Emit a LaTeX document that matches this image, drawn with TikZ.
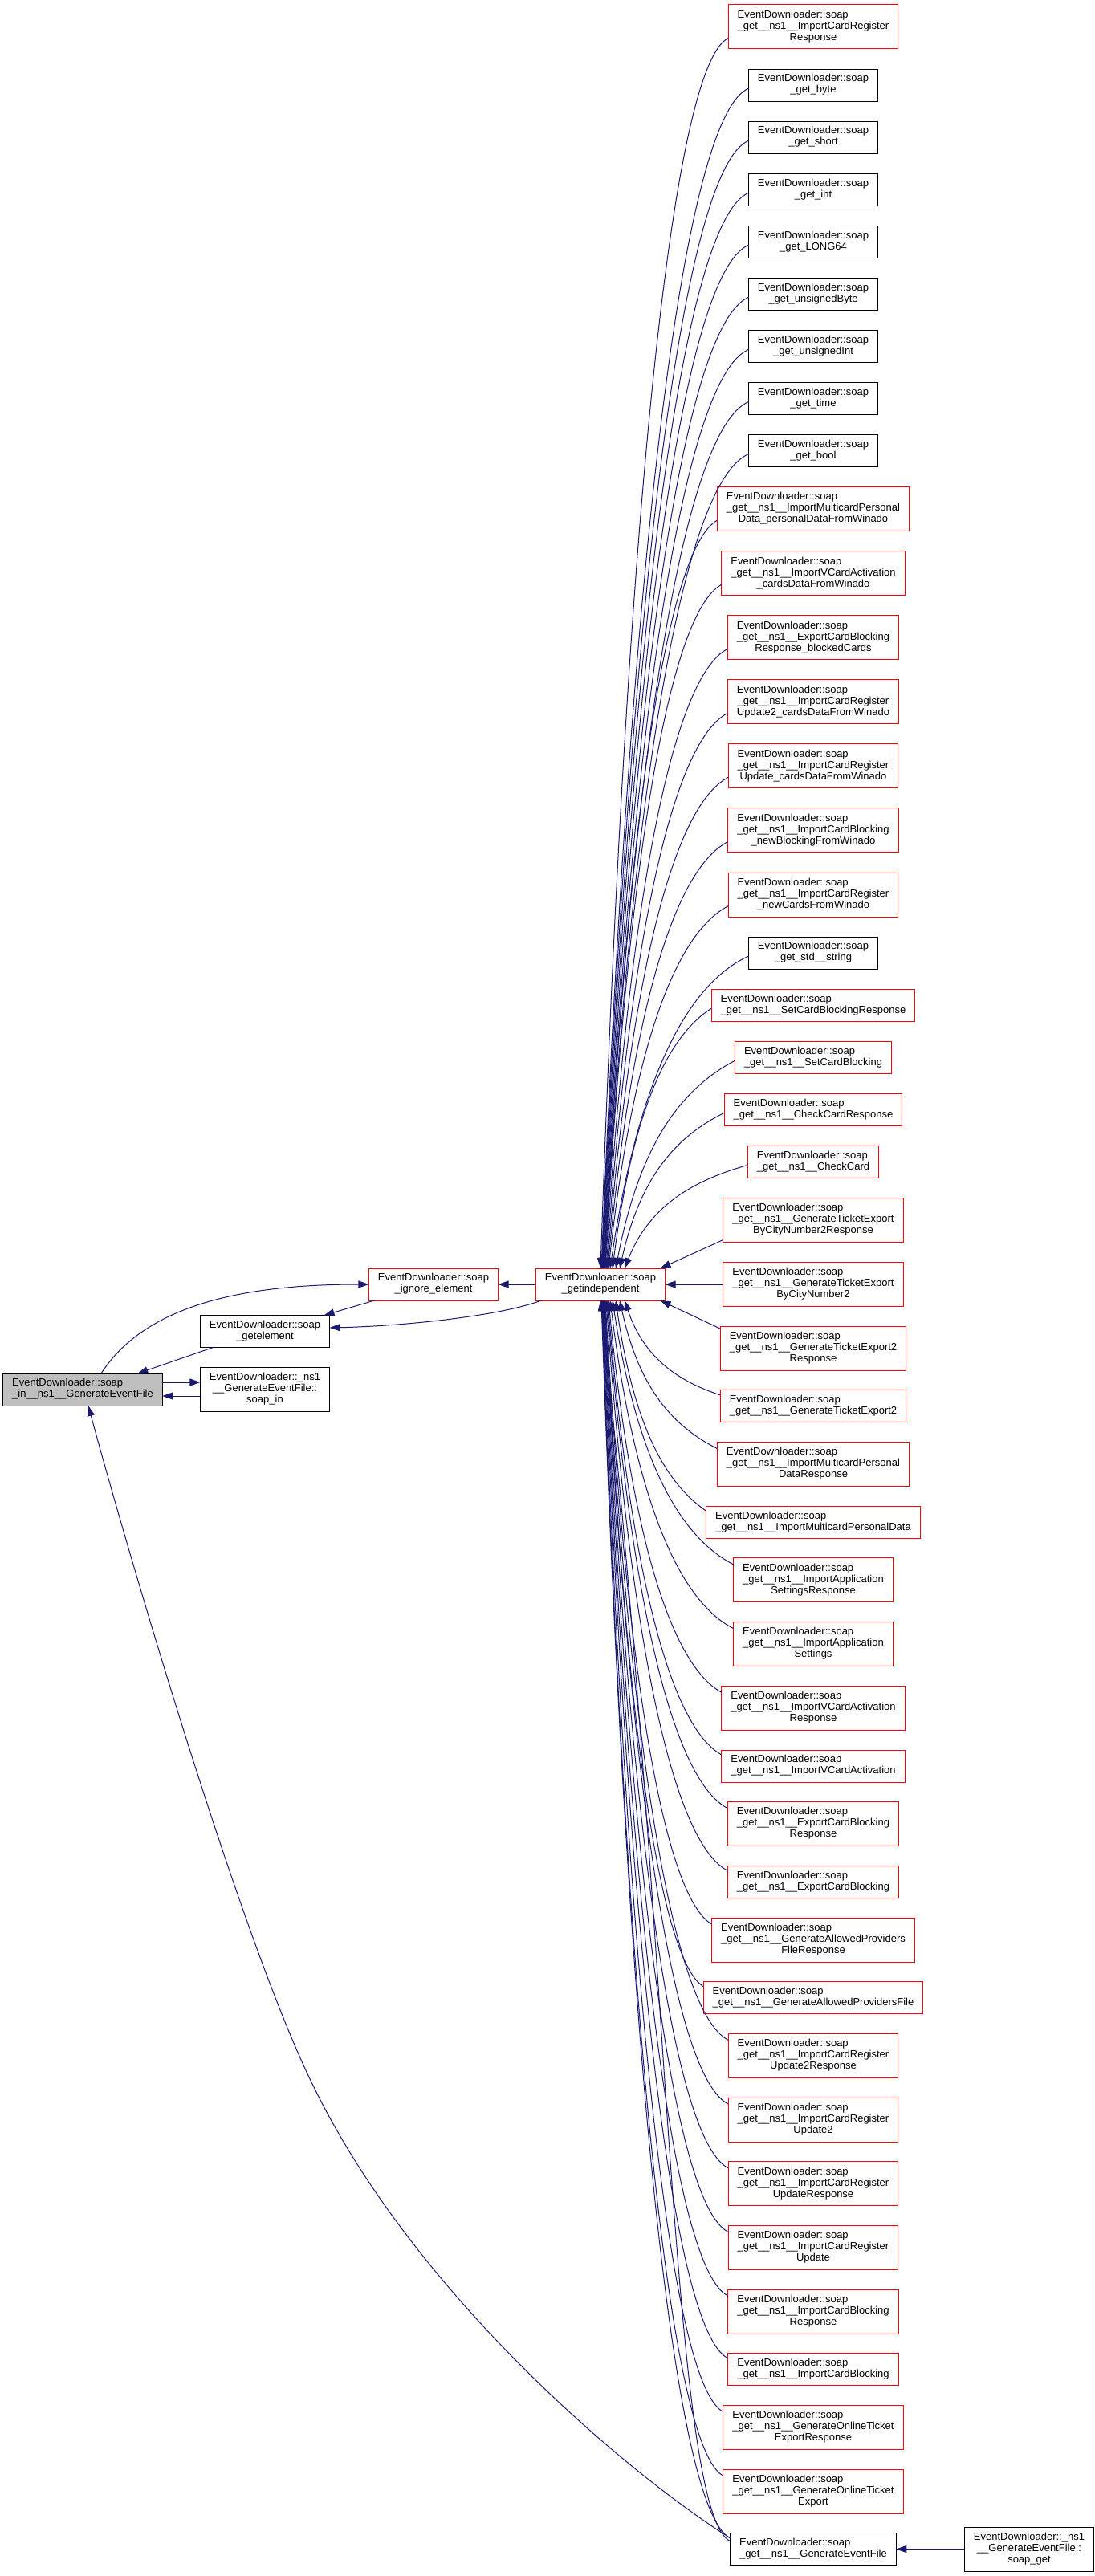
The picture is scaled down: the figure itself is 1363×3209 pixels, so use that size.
\documentclass[tikz,border=0pt]{standalone}
\usepackage{fontspec}
\setmainfont{Liberation Sans}
\usetikzlibrary{arrows.meta,positioning,calc}
\definecolor{edgecol}{HTML}{191970}
\definecolor{grayfill}{HTML}{BFBFBF}
\newcommand{\lb}[2]{\begin{tabular}{@{}c@{}}\multicolumn{1}{@{}l@{}}{#1}\\#2\end{tabular}}
\newcommand{\rl}[1]{\lb{EventDownloader::soap}{#1}}
% upper edge: node, tip offset on gi top, start shift below west anchor
\newcommand{\upe}[3]{%
  \draw[cedge] let \p1=($(#1.west)+(0,#3)$), \p2=($(gi.north)+(#2,0)$),
    \n1={\x1-\x2}, \n2={\y1-\y2} in
    (\p1) .. controls ({\x1-min(100,0.45*\n1)},{\y1-min(35,0.15*\n2)})
    and ({\x2+0.2*\n1},{\y2+0.6*\n2}) .. (\p2);}
% lower edge: node, tip offset on gi bottom, start shift below north west
\newcommand{\loe}[3]{%
  \draw[cedge] let \p1=($(#1.north west)+(0,#3)$), \p2=($(gi.south)+(#2,0)$),
    \n1={\x1-\x2}, \n2={\y2-\y1} in
    (\p1) .. controls ({\x1-min(100,0.45*\n1)},{\y1+min(35,0.15*\n2)})
    and ({\x2+0.2*\n1},{\y2-0.6*\n2}) .. (\p2);}
\begin{document}
\begin{tikzpicture}[x=1pt,y=-1pt,
  box/.style={draw=black, fill=white, line width=1pt, inner xsep=11.5pt, inner ysep=0pt,
    outer sep=0pt, font=\fontsize{13}{14}\selectfont, text=black},
  rbox/.style={box, draw=red},
  gbox/.style={box, fill=grayfill},
  two/.style={minimum height=40pt},
  three/.style={minimum height=55pt},
  ga/.style={below=25.07pt of #1},
  gb/.style={below=24.68pt of #1},
  cedge/.style={draw=edgecol, line width=1pt, -{Triangle[length=13pt,width=9pt]}}]
\useasboundingbox (0,0) rectangle (1363,3209);

% right column
\node[rbox,three,anchor=north] (n1) at (1013,6) {\rl{\_get\_\_ns1\_\_ImportCardRegister\\Response}};
\node[box,two,ga=n1] (n2) {\rl{\_get\_byte}};
\node[box,two,ga=n2] (n3) {\rl{\_get\_short}};
\node[box,two,ga=n3] (n4) {\rl{\_get\_int}};
\node[box,two,ga=n4] (n5) {\rl{\_get\_LONG64}};
\node[box,two,ga=n5] (n6) {\rl{\_get\_unsignedByte}};
\node[box,two,ga=n6] (n7) {\rl{\_get\_unsignedInt}};
\node[box,two,ga=n7] (n8) {\rl{\_get\_time}};
\node[box,two,ga=n8] (n9) {\rl{\_get\_bool}};
\node[rbox,three,ga=n9] (n10) {\rl{\_get\_\_ns1\_\_ImportMulticardPersonal\\Data\_personalDataFromWinado}};
\node[rbox,three,ga=n10] (n11) {\rl{\_get\_\_ns1\_\_ImportVCardActivation\\\_cardsDataFromWinado}};
\node[rbox,three,ga=n11] (n12) {\rl{\_get\_\_ns1\_\_ExportCardBlocking\\Response\_blockedCards}};
\node[rbox,three,ga=n12] (n13) {\rl{\_get\_\_ns1\_\_ImportCardRegister\\Update2\_cardsDataFromWinado}};
\node[rbox,three,ga=n13] (n14) {\rl{\_get\_\_ns1\_\_ImportCardRegister\\Update\_cardsDataFromWinado}};
\node[rbox,three,ga=n14] (n15) {\rl{\_get\_\_ns1\_\_ImportCardBlocking\\\_newBlockingFromWinado}};
\node[rbox,three,ga=n15] (n16) {\rl{\_get\_\_ns1\_\_ImportCardRegister\\\_newCardsFromWinado}};
\node[box,two,ga=n16] (n17) {\rl{\_get\_std\_\_string}};
\node[rbox,two,ga=n17] (n18) {\rl{\_get\_\_ns1\_\_SetCardBlockingResponse}};
\node[rbox,two,ga=n18] (n19) {\rl{\_get\_\_ns1\_\_SetCardBlocking}};
\node[rbox,two,ga=n19] (n20) {\rl{\_get\_\_ns1\_\_CheckCardResponse}};
\node[rbox,two,ga=n20] (n21) {\rl{\_get\_\_ns1\_\_CheckCard}};
\node[rbox,three,ga=n21] (n22) {\rl{\_get\_\_ns1\_\_GenerateTicketExport\\ByCityNumber2Response}};
\node[rbox,three,ga=n22] (n23) {\rl{\_get\_\_ns1\_\_GenerateTicketExport\\ByCityNumber2}};
\node[rbox,three,gb=n23] (n24) {\rl{\_get\_\_ns1\_\_GenerateTicketExport2\\Response}};
\node[rbox,two,gb=n24] (n25) {\rl{\_get\_\_ns1\_\_GenerateTicketExport2}};
\node[rbox,three,gb=n25] (n26) {\rl{\_get\_\_ns1\_\_ImportMulticardPersonal\\DataResponse}};
\node[rbox,two,gb=n26] (n27) {\rl{\_get\_\_ns1\_\_ImportMulticardPersonalData}};
\node[rbox,three,gb=n27] (n28) {\rl{\_get\_\_ns1\_\_ImportApplication\\SettingsResponse}};
\node[rbox,three,gb=n28] (n29) {\rl{\_get\_\_ns1\_\_ImportApplication\\Settings}};
\node[rbox,three,gb=n29] (n30) {\rl{\_get\_\_ns1\_\_ImportVCardActivation\\Response}};
\node[rbox,two,gb=n30] (n31) {\rl{\_get\_\_ns1\_\_ImportVCardActivation}};
\node[rbox,three,gb=n31] (n32) {\rl{\_get\_\_ns1\_\_ExportCardBlocking\\Response}};
\node[rbox,two,gb=n32] (n33) {\rl{\_get\_\_ns1\_\_ExportCardBlocking}};
\node[rbox,three,gb=n33] (n34) {\rl{\_get\_\_ns1\_\_GenerateAllowedProviders\\FileResponse}};
\node[rbox,two,gb=n34] (n35) {\rl{\_get\_\_ns1\_\_GenerateAllowedProvidersFile}};
\node[rbox,three,gb=n35] (n36) {\rl{\_get\_\_ns1\_\_ImportCardRegister\\Update2Response}};
\node[rbox,three,gb=n36] (n37) {\rl{\_get\_\_ns1\_\_ImportCardRegister\\Update2}};
\node[rbox,three,gb=n37] (n38) {\rl{\_get\_\_ns1\_\_ImportCardRegister\\UpdateResponse}};
\node[rbox,three,gb=n38] (n39) {\rl{\_get\_\_ns1\_\_ImportCardRegister\\Update}};
\node[rbox,three,gb=n39] (n40) {\rl{\_get\_\_ns1\_\_ImportCardBlocking\\Response}};
\node[rbox,two,gb=n40] (n41) {\rl{\_get\_\_ns1\_\_ImportCardBlocking}};
\node[rbox,three,gb=n41] (n42) {\rl{\_get\_\_ns1\_\_GenerateOnlineTicket\\ExportResponse}};
\node[rbox,three,gb=n42] (n43) {\rl{\_get\_\_ns1\_\_GenerateOnlineTicket\\Export}};
\node[box,two,gb=n43] (n44) {\rl{\_get\_\_ns1\_\_GenerateEventFile}};

% left part
\node[gbox,two] (g) at (103,1731) {\lb{EventDownloader::soap}{\_in\_\_ns1\_\_GenerateEventFile}};
\node[box,two] (ge) at (330,1658.5) {\rl{\_getelement}};
\node[box,three] (si) at (330,1730.5) {\lb{EventDownloader::\_ns1}{\_\_GenerateEventFile::\\soap\_in}};
\node[rbox,two] (ie) at (540,1600) {\rl{\_ignore\_element}};
\node[rbox,two] (gi) at (748,1600) {\rl{\_getindependent}};
\node[box,three,anchor=east] (sg) at (1362.5,3175.5) {\lb{EventDownloader::\_ns1}{\_\_GenerateEventFile::\\soap\_get}};

% left edges
\draw[cedge] ($(g.north)+(23,0)$) .. controls (175,1635) and (280,1600) .. (ie.west);
\draw[cedge] ($(ie.south west)+(7,0)$) -- ($(ge.north east)+(-7,0)$);
\draw[cedge] ($(gi.south west)+(7,0)$) .. controls (620,1640) and (500,1652) .. ($(ge.east)+(0,-4.5)$);
\draw[cedge] ($(ge.south west)+(16,0)$) -- ($(g.north east)+(-31,0)$);
\draw[cedge] ($(g.east)+(0,-9)$) -- ($(si.west)+(0,-8.5)$);
\draw[cedge] ($(si.west)+(0,8.5)$) -- ($(g.east)+(0,8)$);
\draw[cedge] (gi.west) -- (ie.east);
\coordinate (k1) at (393,2604);
\draw[cedge] ($(n44.north west)+(0,6)$) .. controls (780,3080) and (520,2860) .. (k1)
  .. controls (300,2420) and (150,1900) .. ($(g.south)+(7,0)$);
\draw[cedge] (sg.west) -- (sg.west -| n44.east);

% upper fan
\upe{n1}{0}{14}
\upe{n2}{1}{4}
\upe{n3}{1.5}{4}
\upe{n4}{2}{4}
\upe{n5}{2.5}{4}
\upe{n6}{3}{4}
\upe{n7}{3.5}{4}
\upe{n8}{4}{4}
\upe{n9}{4.5}{4}
\upe{n10}{5}{14}
\upe{n11}{5.5}{14}
\upe{n12}{6}{14}
\upe{n13}{7}{14}
\upe{n14}{8}{14}
\upe{n15}{9}{14}
\upe{n16}{10}{14}
\upe{n17}{12}{4}
\upe{n18}{15}{4}
\upe{n19}{19}{4}
\upe{n20}{24}{4}
\upe{n21}{30}{4}
% side edges
\draw[cedge] ($(n22.south west)+(0,-3)$) -- ($(gi.north east)+(-6,0)$);
\draw[cedge] (n23.west) -- (n23.west -| gi.east);
\draw[cedge] ($(n24.north west)+(0,3)$) -- ($(gi.south east)+(-6,0)$);
% lower fan
\loe{n25}{30}{6}
\loe{n26}{24}{8}
\loe{n27}{19}{6}
\loe{n28}{15}{8}
\loe{n29}{12}{8}
\loe{n30}{10}{8}
\loe{n31}{9}{6}
\loe{n32}{8}{8}
\loe{n33}{7}{6}
\loe{n34}{6}{8}
\loe{n35}{5.5}{6}
\loe{n36}{5}{8}
\loe{n37}{4.5}{8}
\loe{n38}{4}{8}
\loe{n39}{3.5}{8}
\loe{n40}{3}{8}
\loe{n41}{2.5}{6}
\loe{n42}{2}{8}
\loe{n43}{1.5}{8}
\loe{n44}{1}{6}
\draw[cedge] ($(n44.north west)+(0,10)$) .. controls (835,3130) and (835,2400) .. (gi.south);
\end{tikzpicture}
\end{document}
